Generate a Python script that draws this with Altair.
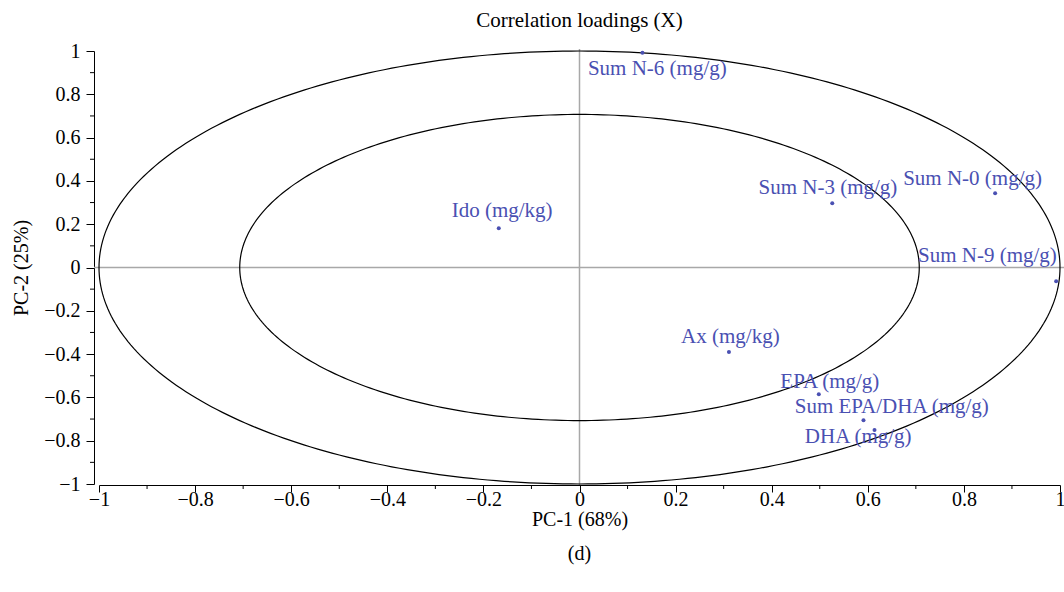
import altair as alt
import numpy as np
import pandas as pd

# ---- data ----
variables = ["Sum N-6 (mg/g)", "Ido (mg/kg)", "Sum N-3 (mg/g)", "Sum N-0 (mg/g)",
             "Sum N-9 (mg/g)", "Ax (mg/kg)", "EPA (mg/g)", "Sum EPA/DHA (mg/g)", "DHA (mg/g)"]
pc1 = [0.131, -0.168, 0.526, 0.865, 0.992, 0.311, 0.498, 0.591, 0.614]
pc2 = [0.992, 0.181, 0.297, 0.343, -0.064, -0.390, -0.586, -0.706, -0.751]
# label anchor positions (data units)
label_pc1 = [0.162, -0.161, 0.517, 0.818, 0.849, 0.314, 0.521, 0.650, 0.580]
label_pc2 = [0.915, 0.261, 0.367, 0.409, 0.055, -0.319, -0.527, -0.644, -0.783]

major_ticks = [-1, -0.8, -0.6, -0.4, -0.2, 0, 0.2, 0.4, 0.6, 0.8, 1]
minor_ticks = [-0.9, -0.7, -0.5, -0.3, -0.1, 0.1, 0.3, 0.5, 0.7, 0.9]
circle_radii = [1.0, 0.7071]   # 100% and 50% explained-variance circles

W, H = 961, 433
FONT = "Liberation Serif"
BLUE = "#4a50b2"

pts = pd.DataFrame({"x": pc1, "y": pc2, "name": variables})
labs = pd.DataFrame({"x": label_pc1, "y": label_pc2, "name": variables})

t = np.linspace(0, 2 * np.pi, 361)
rings = pd.concat([
    pd.DataFrame({"x": r * np.cos(t), "y": r * np.sin(t), "ring": str(r), "k": np.arange(len(t))})
    for r in circle_radii
])
minor_df = pd.DataFrame({"x": minor_ticks, "y": minor_ticks})

xs = alt.Scale(domain=[-1, 1], nice=False, zero=False)
ys = alt.Scale(domain=[-1, 1], nice=False, zero=False)

common_axis = dict(grid=False, format="~g", values=major_ticks, labelFlush=False,
                   labelOverlap=False, domainColor="black", tickColor="black",
                   labelFont=FONT, titleFont=FONT, labelFontSize=20, titleFontSize=20,
                   labelFontWeight="normal", titleFontWeight="normal",
                   labelColor="black", titleColor="black")
x_axis = alt.Axis(title="PC-1 (68%)", tickSize=7, offset=1, labelPadding=-3,
                  titlePadding=0, **common_axis)
y_axis = alt.Axis(title="PC-2 (25%)", tickSize=8, offset=5, labelPadding=6,
                  titlePadding=12, **common_axis)


def X(f):
    return alt.X(f, type="quantitative", scale=xs, axis=x_axis)


def Y(f):
    return alt.Y(f, type="quantitative", scale=ys, axis=y_axis)


zero_h = alt.Chart(pd.DataFrame({"y": [0]})).mark_rule(color="#a8a8a8", strokeWidth=1.5).encode(
    y=Y("y"), x=alt.value(-5), x2=alt.value(W + 5))
zero_v = alt.Chart(pd.DataFrame({"x": [0]})).mark_rule(color="#a8a8a8", strokeWidth=1.5).encode(
    x=X("x"), y=alt.value(-2), y2=alt.value(H + 1))

ellipses = alt.Chart(rings).mark_line(color="black", strokeWidth=1.2).encode(
    x=X("x"), y=Y("y"), detail="ring:N", order="k:Q")

dots = alt.Chart(pts).mark_circle(color=BLUE, size=16, opacity=1).encode(
    x=X("x"), y=Y("y"))

labels = alt.Chart(labs).mark_text(color=BLUE, font=FONT, fontSize=21,
                                   align="center", baseline="middle").encode(
    x=X("x"), y=Y("y"), text="name:N")

minor_y = alt.Chart(minor_df).mark_rule(color="black", strokeWidth=1).encode(
    y=Y("y"), x=alt.value(-5), x2=alt.value(-9))
minor_x = alt.Chart(minor_df).mark_rule(color="black", strokeWidth=1).encode(
    x=X("x"), y=alt.value(H + 1), y2=alt.value(H + 5))

caption = alt.Chart(pd.DataFrame({"c": ["(d)"]})).mark_text(
    font=FONT, fontSize=20, color="black", align="center", baseline="middle").encode(
    text="c:N", x=alt.value(W / 2), y=alt.value(H + 70))

chart = alt.layer(zero_h, zero_v, ellipses, minor_y, minor_x, dots, labels, caption).properties(
    width=W, height=H,
    title=alt.TitleParams("Correlation loadings (X)", font=FONT, fontSize=21,
                          fontWeight="normal", anchor="middle", offset=10, color="black"),
    autosize=alt.AutoSizeParams(type="none"),
    padding={"left": 99, "top": 51, "right": 4, "bottom": 108},
    background="white",
).configure_view(strokeWidth=0, stroke="transparent")

chart.save("out.html", embed_options={"renderer": "svg", "actions": False})
